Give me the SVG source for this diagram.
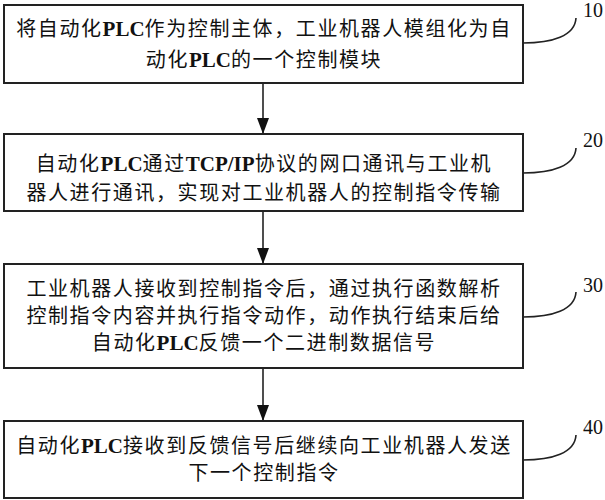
<svg xmlns="http://www.w3.org/2000/svg" width="605" height="500" viewBox="0 0 605 500">
<style>
.box{fill:#fff;stroke:#222;stroke-width:2}
.t{font-family:"Noto Sans CJK SC","Noto Sans CJK JP",sans-serif;font-size:20px;letter-spacing:1.6px;fill:#111;text-anchor:middle}
.l{font-family:"Liberation Serif",serif;font-weight:bold;font-size:21px;letter-spacing:0}
.num{font-family:"Liberation Serif",serif;font-size:20px;fill:#111}
.lead{fill:none;stroke:#222;stroke-width:1.6}
.arr{stroke:#222;stroke-width:1.6;fill:none;marker-end:url(#ah)}
</style>
<defs>
<marker id="ah" markerUnits="userSpaceOnUse" markerWidth="17" markerHeight="12" refX="16" refY="6" orient="auto" viewBox="0 0 17 12">
<path d="M0,0 L16,6 L0,12 Z" fill="#111"/>
</marker>
</defs>
<g id="connectors">
<line x1="263" y1="83" x2="263" y2="134" class="arr"/>
<line x1="263" y1="211" x2="263" y2="264" class="arr"/>
<line x1="263" y1="368" x2="263" y2="421" class="arr"/>
</g>
<g id="step10">
<rect class="box" x="4" y="5" width="519" height="78"/>
<text class="t" x="264" y="36">将自动化<tspan class="l">PLC</tspan>作为控制主体，工业机器人模组化为自</text>
<text class="t" x="264" y="67">动化<tspan class="l">PLC</tspan>的一个控制模块</text>
<path class="lead" d="M523,43 C552,43 575,36 576,18"/>
<text class="num" x="583" y="17">10</text>
</g>
<g id="step20">
<rect class="box" x="4" y="134" width="519" height="77"/>
<text class="t" x="264" y="171">自动化<tspan class="l">PLC</tspan>通过<tspan class="l">TCP/IP</tspan>协议的网口通讯与工业机</text>
<text class="t" x="264" y="200">器人进行通讯，实现对工业机器人的控制指令传输</text>
<path class="lead" d="M523,173 C552,173 575,166 576,148"/>
<text class="num" x="583" y="147">20</text>
</g>
<g id="step30">
<rect class="box" x="4" y="264" width="519" height="104"/>
<text class="t" x="264" y="296">工业机器人接收到控制指令后，通过执行函数解析</text>
<text class="t" x="264" y="323">控制指令内容并执行指令动作，动作执行结束后给</text>
<text class="t" x="264" y="350">自动化<tspan class="l">PLC</tspan>反馈一个二进制数据信号</text>
<path class="lead" d="M523,317 C552,317 575,310 576,292"/>
<text class="num" x="583" y="292">30</text>
</g>
<g id="step40">
<rect class="box" x="4" y="421" width="519" height="77"/>
<text class="t" x="264" y="453">自动化<tspan class="l">PLC</tspan>接收到反馈信号后继续向工业机器人发送</text>
<text class="t" x="264" y="480">下一个控制指令</text>
<path class="lead" d="M523,460 C552,460 575,453 576,435"/>
<text class="num" x="583" y="434">40</text>
</g>
</svg>
